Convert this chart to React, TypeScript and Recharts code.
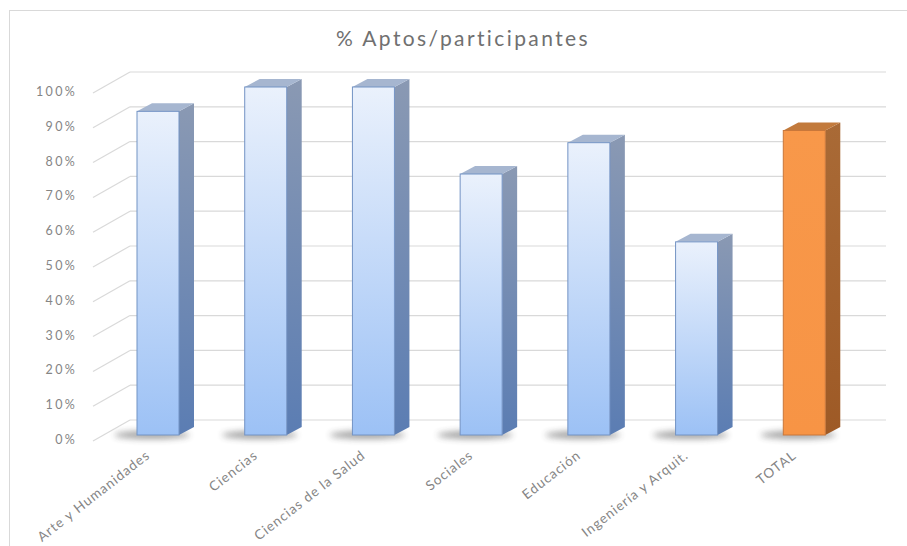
import React from "react";
import { Bar, BarChart, CartesianGrid, XAxis, YAxis } from "recharts";

const categories = [
  "Arte y Humanidades",
  "Ciencias",
  "Ciencias de la Salud",
  "Sociales",
  "Educación",
  "Ingeniería y Arquit.",
  "TOTAL",
];
const aptosPct = [0.93, 1, 1, 0.75, 0.84, 0.555, 0.875];
const yTicks = [0, 0.1, 0.2, 0.3, 0.4, 0.5, 0.6, 0.7, 0.8, 0.9, 1];
const highlighted = ["TOTAL"];

const data = categories.map((name, i) => ({ name, value: aptosPct[i] }));

const W = 907;
const H = 546;
const PLOT_LEFT = 104;
// back wall offset (3d look)
const WALL_DX = 26;
const WALL_DY = 15;
const BAR_DX = 15;
const BAR_DY = 8;
const FONT = "Lato, 'Open Sans', sans-serif";

function Bar3D(props: any) {
  const { x, y, width, height, payload } = props;
  if (height == null || width == null) return null;
  const hot = highlighted.includes(payload.name);
  const front = hot ? "url(#frontOrange)" : "url(#frontBlue)";
  const side = hot ? "url(#sideOrange)" : "url(#sideBlue)";
  const top = hot ? "#c27a3c" : "#a6b6d0";
  const edge = hot ? "#c9773a" : "#7393c4";
  const r = x + width;
  const b = y + height;
  return (
    <g>
      <ellipse
        cx={x + width / 2 - 6}
        cy={b}
        rx={width * 0.9}
        ry={4}
        fill="#333"
        opacity={0.45}
        filter="url(#shadowBlur)"
      />
      <polygon
        points={`${r},${y} ${r + BAR_DX},${y - BAR_DY} ${r + BAR_DX},${b - BAR_DY} ${r},${b}`}
        fill={side}
      />
      <polygon
        points={`${x},${y} ${x + BAR_DX},${y - BAR_DY} ${r + BAR_DX},${y - BAR_DY} ${r},${y}`}
        fill={top}
      />
      <rect x={x} y={y} width={width} height={height} fill={front} stroke={edge} strokeWidth={1} />
    </g>
  );
}

function YTick(props: any) {
  const { y, payload } = props;
  return (
    <g>
      <line
        x1={PLOT_LEFT - 11}
        y1={y + 6}
        x2={PLOT_LEFT + WALL_DX}
        y2={y - WALL_DY}
        stroke="#d9d9d9"
        strokeWidth={1.2}
      />
      <text
        x={77}
        y={y + 9}
        textAnchor="end"
        fontFamily={FONT}
        fontSize={12.5}
        letterSpacing={2.3}
        fill="#858585"
      >
        {`${Math.round(payload.value * 100)}%`}
      </text>
    </g>
  );
}

function XTick(props: any) {
  const { x, payload } = props;
  const tx = x - 7;
  const ty = 457;
  return (
    <text
      x={tx}
      y={ty}
      textAnchor="end"
      transform={`rotate(-38, ${tx}, ${ty})`}
      fontFamily={FONT}
      fontSize={13.5}
      letterSpacing={1}
      fill="#858585"
    >
      {payload.value}
    </text>
  );
}

function WallLine(props: any) {
  const { x1, y1, x2, y2 } = props;
  return (
    <line
      x1={x1 + WALL_DX}
      y1={y1 - WALL_DY}
      x2={x2 + WALL_DX + 2}
      y2={y2 - WALL_DY}
      stroke="#d9d9d9"
      strokeWidth={1.2}
    />
  );
}

export default function App() {
  return (
    <div style={{ position: "absolute", left: 0, top: 0, width: W, height: H, background: "#fff" }}>
      <div
        style={{
          position: "absolute",
          left: 9,
          top: 10,
          width: W,
          height: H,
          borderTop: "1.5px solid #d9d9d9",
          borderLeft: "1.5px solid #d9d9d9",
        }}
      />
      <div
        style={{
          position: "absolute",
          left: 0,
          top: 25,
          width: 926,
          textAlign: "center",
          fontFamily: FONT,
          fontSize: 21,
          letterSpacing: 2.4,
          color: "#707070",
        }}
      >
        % Aptos/participantes
      </div>
      <div style={{ position: "absolute", left: 0, top: 0 }}>
        <BarChart
          width={W}
          height={H}
          data={data}
          margin={{ top: 87, right: 49, left: 0, bottom: 0 }}
        >
          <defs>
            <linearGradient id="frontBlue" x1="0" y1="0" x2="0" y2="1">
              <stop offset="0%" stopColor="#eaf1fc" />
              <stop offset="100%" stopColor="#9cc1f5" />
            </linearGradient>
            <linearGradient id="sideBlue" x1="0" y1="0" x2="0" y2="1">
              <stop offset="0%" stopColor="#8a99b3" />
              <stop offset="100%" stopColor="#5b7db3" />
            </linearGradient>
            <linearGradient id="frontOrange" x1="0" y1="0" x2="0" y2="1">
              <stop offset="0%" stopColor="#f8984a" />
              <stop offset="100%" stopColor="#f79445" />
            </linearGradient>
            <linearGradient id="sideOrange" x1="0" y1="0" x2="0" y2="1">
              <stop offset="0%" stopColor="#a96a36" />
              <stop offset="100%" stopColor="#9e5a26" />
            </linearGradient>
            <filter id="shadowBlur" x="-50%" y="-200%" width="200%" height="500%">
              <feGaussianBlur stdDeviation="3" />
            </filter>
          </defs>
          <CartesianGrid vertical={false} horizontal={WallLine} />
          <XAxis
            dataKey="name"
            height={111}
            axisLine={false}
            tickLine={false}
            interval={0}
            tick={XTick}
          />
          <YAxis
            width={PLOT_LEFT}
            domain={[0, 1]}
            ticks={yTicks}
            axisLine={false}
            tickLine={false}
            tick={YTick}
          />
          <Bar dataKey="value" barSize={42} shape={Bar3D} isAnimationActive={false} />
        </BarChart>
      </div>
    </div>
  );
}
